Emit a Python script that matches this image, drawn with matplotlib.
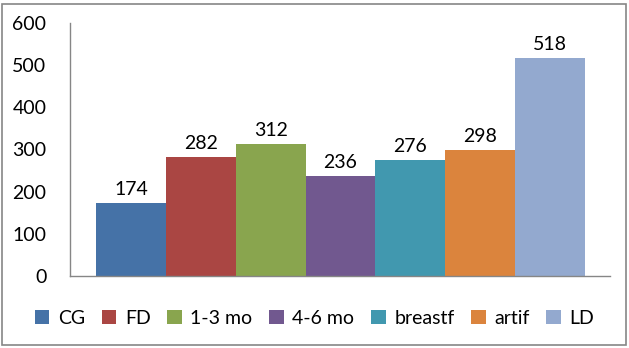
import matplotlib
matplotlib.use("Agg")
import matplotlib.pyplot as plt
from matplotlib.patches import Rectangle, Patch

categories = ["CG", "FD", "1-3 mo", "4-6 mo", "breastf", "artif", "LD"]
values = [174, 282, 312, 236, 276, 298, 518]
colors = ["#4572A7", "#AA4643", "#89A54E", "#71588F", "#4198AF", "#DB843D", "#93A9CF"]
yticks = [0, 100, 200, 300, 400, 500, 600]

plt.rcParams['font.family'] = ['Lato', 'DejaVu Sans']

fig = plt.figure(figsize=(6.29, 3.48), dpi=100)
ax = fig.add_axes([70/629, 1-276/348, 540/629, 253/348])

for i, (c, v, col) in enumerate(zip(categories, values, colors)):
    ax.bar(i, v, width=1.0, color=col, label=c)
    ax.text(i, v + 12, str(v), ha='center', va='bottom', fontsize=14, color='black')

ax.set_xlim(-0.5 - 0.372, 6.5 + 0.358)
ax.set_ylim(0, 600)
ax.set_yticks(yticks)
ax.set_yticklabels([str(t) for t in yticks], fontsize=14)
ax.set_xticks([])
ax.tick_params(axis='y', length=0, pad=17)
for s in ['top', 'right']:
    ax.spines[s].set_visible(False)
for s in ['left', 'bottom']:
    ax.spines[s].set_color('#868686')
    ax.spines[s].set_linewidth(1.0)

handles = [Patch(facecolor=col, edgecolor='none') for col in colors]
fig.legend(handles, categories, loc='center', bbox_to_anchor=(0.5, 1-318/348),
           ncol=7, frameon=False, fontsize=14, handlelength=0.75, handleheight=0.75,
           handletextpad=0.45, columnspacing=0.85)

fig.patches.append(Rectangle((2/629, 3/348), 624/629, 341/348, transform=fig.transFigure,
                             fill=False, edgecolor='#868686', linewidth=1.2))

fig.savefig("out.png", dpi=100)
